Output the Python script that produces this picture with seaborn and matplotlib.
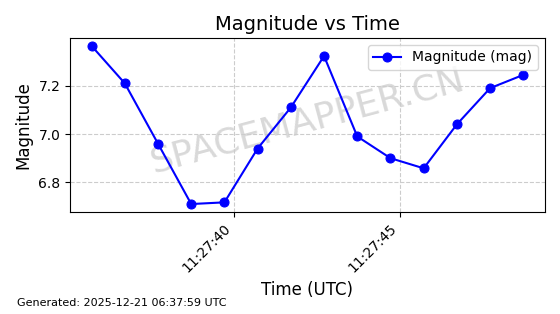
import matplotlib
matplotlib.use("Agg")
import matplotlib.pyplot as plt
import matplotlib.dates as mdates
import seaborn as sns
import pandas as pd

times = ["2025-12-21 11:27:35.72", "2025-12-21 11:27:36.72", "2025-12-21 11:27:37.72",
         "2025-12-21 11:27:38.72", "2025-12-21 11:27:39.72", "2025-12-21 11:27:40.72",
         "2025-12-21 11:27:41.72", "2025-12-21 11:27:42.72", "2025-12-21 11:27:43.72",
         "2025-12-21 11:27:44.72", "2025-12-21 11:27:45.72", "2025-12-21 11:27:46.72",
         "2025-12-21 11:27:47.72", "2025-12-21 11:27:48.72"]
magnitudes = [7.365, 7.21, 6.96, 6.71, 6.717, 6.94, 7.11, 7.323, 6.99, 6.90, 6.858, 7.04, 7.19, 7.245]

df = pd.DataFrame({"time": pd.to_datetime(times), "mag": magnitudes})

fig, ax = plt.subplots(figsize=(5.6, 3.14), dpi=100)
fig.subplots_adjust(left=0.125, right=0.973, top=0.879, bottom=0.325)

ax.text(0.5, 0.525, "SPACEMAPPER.CN", transform=ax.transAxes, fontsize=26,
        color="gray", alpha=0.3, rotation=15, ha="center", va="center", zorder=0)

sns.lineplot(data=df, x="time", y="mag", ax=ax, color="blue", marker="o",
             markersize=6.5, markeredgecolor="blue", linewidth=1.5,
             label="Magnitude (mag)", zorder=3)

ax.grid(True, linestyle="--", color="#cccccc", linewidth=0.8)
ax.set_axisbelow(True)
ax.set_title("Magnitude vs Time", fontsize=14)
ax.set_xlabel("Time (UTC)", fontsize=12)
ax.set_ylabel("Magnitude", fontsize=12)
ax.xaxis.set_major_locator(mdates.SecondLocator(bysecond=[40, 45]))
ax.xaxis.set_major_formatter(mdates.DateFormatter("%H:%M:%S"))
plt.setp(ax.get_xticklabels(), rotation=45, ha="right")
ax.set_yticks([6.8, 7.0, 7.2])
ax.legend(loc="upper right", fontsize=10)

fig.text(0.03, 0.025, "Generated: 2025-12-21 06:37:59 UTC", fontsize=8)

fig.savefig("out.png", dpi=100)
